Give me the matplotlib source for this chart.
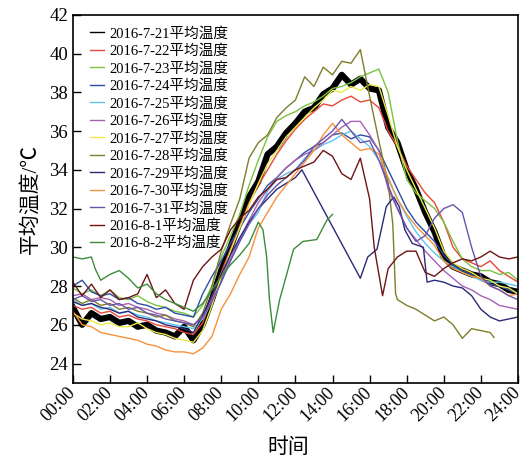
import numpy as np
import matplotlib.pyplot as plt

plt.rcParams['font.family'] = ['Liberation Serif', 'Noto Sans CJK SC']
plt.rcParams['axes.unicode_minus'] = False

# half-hour grid shared by most of the days
hours = np.arange(0, 24.01, 0.5)

t_0721 = [26.9, 26.0, 26.6, 26.3, 26.4, 26.1, 26.2, 25.9, 26.0, 25.7, 25.6, 25.4, 25.9, 25.2, 26.0, 27.3,
          28.8, 30.0, 31.3, 32.6, 33.4, 34.8, 35.2, 35.9, 36.4, 37.0, 37.2, 37.9, 38.2, 38.9, 38.4, 38.7,
          38.2, 38.1, 36.2, 35.4, 34.0, 33.0, 31.8, 30.8, 29.5, 29.0, 28.8, 28.6, 28.5, 28.2, 28.1, 27.8, 27.7]
t_0722 = [27.0, 26.8, 26.9, 26.6, 26.7, 26.4, 26.5, 26.3, 26.2, 26.0, 25.9, 25.8, 25.6, 25.5, 26.1, 27.4,
          28.7, 29.9, 31.1, 32.3, 33.2, 34.0, 34.8, 35.5, 36.1, 36.6, 37.0, 37.4, 37.3, 37.6, 37.8, 37.5,
          37.6, 37.2, 36.0, 35.2, 34.2, 33.5, 32.8, 32.3, 31.3, 30.0, 29.4, 29.2, 29.0, 29.3, 28.8, 28.5, 28.2]
t_0723 = [27.9, 27.6, 27.8, 27.5, 27.8, 27.4, 27.3, 27.5, 27.2, 27.0, 26.9, 26.7, 26.6, 26.4, 27.0, 28.0,
          29.5, 30.6, 31.7, 33.2, 34.5, 35.7, 36.5, 36.8, 37.0, 37.3, 37.5, 37.8, 38.2, 38.3, 38.5, 38.8,
          39.0, 39.2, 38.0, 35.5, 33.5, 32.8, 32.4, 32.0, 31.3, 30.3, 29.4, 29.0, 28.8, 28.8, 28.6, 28.7, 28.3]
t_0724 = [28.0, 28.3, 27.7, 27.5, 27.6, 27.3, 27.4, 27.1, 27.0, 26.8, 26.9, 26.6, 26.5, 26.4, 27.6, 28.5,
          29.3, 30.2, 31.0, 31.8, 32.5, 33.2, 33.6, 34.1, 34.5, 34.9, 35.2, 35.4, 35.8, 35.9, 35.6, 35.8,
          35.7, 35.0, 34.0, 33.0, 32.0, 31.3, 30.8, 30.3, 29.6, 29.1, 28.8, 28.6, 28.3, 28.1, 28.0, 27.8, 27.6]
t_0725 = [27.3, 27.0, 27.1, 26.8, 26.9, 26.6, 26.7, 26.5, 26.4, 26.2, 26.1, 26.0, 25.9, 25.8, 26.3, 27.2,
          28.2, 29.3, 30.3, 31.2, 31.8, 32.9, 33.5, 33.8, 34.0, 34.6, 35.0, 35.3, 35.5, 35.8, 36.0, 35.6,
          35.2, 34.5, 33.5, 32.5, 31.6, 30.8, 30.2, 29.7, 29.3, 29.0, 28.7, 28.5, 28.3, 28.2, 28.2, 28.1, 28.0]
t_0726 = [27.5, 27.6, 27.3, 27.4, 27.3, 27.0, 27.1, 26.9, 26.8, 26.6, 26.5, 26.3, 26.2, 26.0, 26.4, 27.3,
          28.3, 29.4, 30.4, 31.4, 32.3, 33.0, 33.6, 34.1, 34.5, 34.8, 35.0, 35.4, 35.8, 36.2, 36.5, 36.5,
          35.8, 35.0, 33.0, 32.0, 31.0, 30.4, 29.8, 29.3, 28.8, 28.4, 28.0, 27.8, 27.5, 27.3, 27.0, 26.9, 26.8]
t_0727 = [26.6, 26.3, 26.2, 26.0, 26.1, 25.9, 25.9, 26.1, 25.8, 25.6, 25.5, 25.3, 25.2, 25.1, 25.7, 27.0,
          28.5, 29.8, 31.0, 32.2, 33.3, 34.3, 35.0, 35.7, 36.2, 36.7, 37.2, 37.6, 38.1, 38.0, 38.3, 38.1,
          38.4, 38.3, 36.8, 35.2, 34.0, 33.0, 32.0, 31.0, 29.8, 29.2, 28.9, 28.7, 28.4, 28.3, 28.0, 27.9, 27.6]
t_0730 = [26.7, 26.0, 25.9, 25.6, 25.5, 25.4, 25.3, 25.2, 25.0, 24.9, 24.7, 24.6, 24.6, 24.5, 24.8, 25.4,
          26.8, 27.6, 28.6, 29.5, 31.0, 31.8, 32.6, 33.2, 33.8, 34.4, 35.0, 35.8, 36.4, 35.8, 35.4, 35.0,
          35.1, 34.8, 33.6, 32.5, 31.7, 31.1, 30.6, 30.1, 29.3, 28.9, 28.7, 28.5, 28.4, 28.0, 27.8, 27.5, 27.6]
t_0731 = [27.3, 27.5, 27.2, 27.3, 27.0, 27.1, 26.8, 26.9, 26.6, 26.5, 26.3, 26.2, 26.1, 26.0, 26.4, 27.2,
          28.2, 29.3, 30.3, 31.2, 32.0, 32.7, 33.2, 33.6, 34.0, 34.5, 35.2, 35.6, 36.0, 36.6, 36.0, 35.4,
          35.5, 34.5, 33.2, 32.0, 31.0, 30.3, 30.6, 31.5, 32.0, 32.2, 31.8, 30.0, 28.5, 28.0, 27.8, 27.5, 27.3]

# days with gaps or a different logging span
h_0728 = list(np.arange(0, 17.01, 0.5)) + [17.25, 17.4, 17.5, 18, 18.5, 19, 19.5, 20, 20.5, 21, 21.5, 22, 22.5, 22.7]
t_0728 = [27.4, 27.1, 27.3, 27.0, 27.1, 26.8, 26.9, 26.7, 26.6, 26.4, 26.5, 26.2, 26.1, 25.9, 26.6, 28.0,
          29.8, 31.2, 32.5, 34.6, 35.4, 35.8, 36.7, 37.2, 37.6, 38.8, 38.3, 39.3, 38.9, 39.6, 39.5, 40.2,
          37.8, 35.5, 33.3,
          31.2, 27.6, 27.3, 27.0, 26.8, 26.5, 26.2, 26.4, 26.0, 25.3, 25.8, 25.7, 25.6, 25.35]

h_0729 = list(np.arange(0, 12.01, 0.5)) + [12.35, 15.5, 15.9, 16.4, 16.9, 17.3, 17.6, 17.9, 18.3, 18.9, 19.1,
                                            19.5, 20, 20.5, 21, 21.5, 22, 22.5, 23, 23.5, 24]
t_0729 = [27.2, 27.0, 27.1, 26.9, 26.8, 26.6, 26.7, 26.4, 26.3, 26.2, 26.0, 25.9, 25.8, 25.6, 26.5, 27.5,
          28.6, 29.6, 30.5, 31.3, 32.0, 32.5, 33.0, 33.3, 33.6,
          34.0, 28.4, 29.5, 29.9, 32.1, 32.6, 32.1, 30.9, 30.2, 30.0, 28.2,
          28.3, 28.2, 28.0, 27.9, 27.5, 26.8, 26.4, 26.2, 26.3, 26.4]

h_0801 = list(np.arange(0, 16.01, 0.5)) + [16.25, 16.7, 17, 17.5, 18, 18.5, 19, 19.5, 20, 20.5, 21, 21.5,
                                            22, 22.5, 23, 23.5, 24]
t_0801 = [28.2, 27.5, 28.1, 27.4, 27.8, 27.3, 27.4, 27.6, 28.6, 27.4, 27.8, 27.1, 26.8, 28.3, 29.0, 29.5,
          29.9, 30.9, 31.5, 31.9, 32.6, 33.0, 33.5, 33.6, 34.0, 34.2, 34.4, 35.0, 34.7, 33.8, 33.5, 34.6,
          32.5,
          30.0, 27.5, 28.9, 29.5, 29.8, 29.8, 28.7, 28.5, 28.9, 29.2, 29.4, 29.3, 29.5, 29.8, 29.5, 29.4, 29.5]

h_0802 = [0, 0.5, 1.0, 1.2, 1.5, 2, 2.5, 3, 3.5, 4, 4.5, 5, 5.5, 6, 6.5, 7, 7.5, 8, 8.5, 9, 9.5, 10,
          10.25, 10.45, 10.6, 10.8, 11.15, 11.5, 11.9, 12.4, 13.15, 13.7, 14.0]
t_0802 = [29.5, 29.4, 29.5, 28.9, 28.3, 28.6, 28.8, 28.4, 27.9, 28.1, 27.6, 27.3, 27.1, 26.9, 26.7, 27.1,
          27.8, 28.5, 29.1, 29.6, 30.2, 31.3, 30.9, 29.5, 27.3, 25.6, 27.3, 28.5, 29.9, 30.3, 30.4, 31.4, 31.7]

series = [
    ('2016-7-21', hours, t_0721, 'black'),
    ('2016-7-22', hours, t_0722, '#e8483a'),
    ('2016-7-23', hours, t_0723, '#7cc242'),
    ('2016-7-24', hours, t_0724, '#2c4ea2'),
    ('2016-7-25', hours, t_0725, '#5ec6ee'),
    ('2016-7-26', hours, t_0726, '#a762b4'),
    ('2016-7-27', hours, t_0727, '#ece94a'),
    ('2016-7-28', h_0728, t_0728, '#7d7d2c'),
    ('2016-7-29', h_0729, t_0729, '#2b2a78'),
    ('2016-7-30', hours, t_0730, '#f7923a'),
    ('2016-7-31', hours, t_0731, '#6a52aa'),
    ('2016-8-1', h_0801, t_0801, '#6e1414'),
    ('2016-8-2', h_0802, t_0802, '#3c8c3c'),
]

fig = plt.figure(figsize=(5.28, 4.63), dpi=100)
ax = fig.add_axes([0.138, 0.173, 0.843, 0.795])

for name, x, y, c in series:
    lw = 4.5 if c == 'black' else 1.0
    ax.plot(x, y, color=c, lw=lw, label=name + '平均温度')

ax.set_xlim(0, 24)
ax.set_ylim(23, 42)
ax.set_xticks(range(0, 25, 2))
ax.set_xticklabels(['%02d:00' % h for h in range(0, 25, 2)], rotation=45,
                   ha='right', va='center', rotation_mode='anchor', fontsize=13)
ax.set_yticks(range(24, 43, 2))
ax.tick_params(axis='y', labelsize=13.5)
ax.tick_params(axis='x', pad=5)
ax.tick_params(direction='in', length=6, width=1, top=False, right=False)
for s in ax.spines.values():
    s.set_linewidth(1.2)

ax.set_xlabel('时间', fontsize=15)
ax.xaxis.set_label_coords(0.483, -0.15)
ax.set_ylabel('平均温度/℃', fontsize=15, labelpad=6)

leg = ax.legend(loc='upper left', frameon=False, fontsize=10.5, handlelength=1.0,
                handletextpad=0.35, labelspacing=0.26, borderaxespad=0.3,
                bbox_to_anchor=(0.015, 0.995))
for line in leg.get_lines():
    line.set_linewidth(1.0)

fig.savefig('out.png', dpi=100)
